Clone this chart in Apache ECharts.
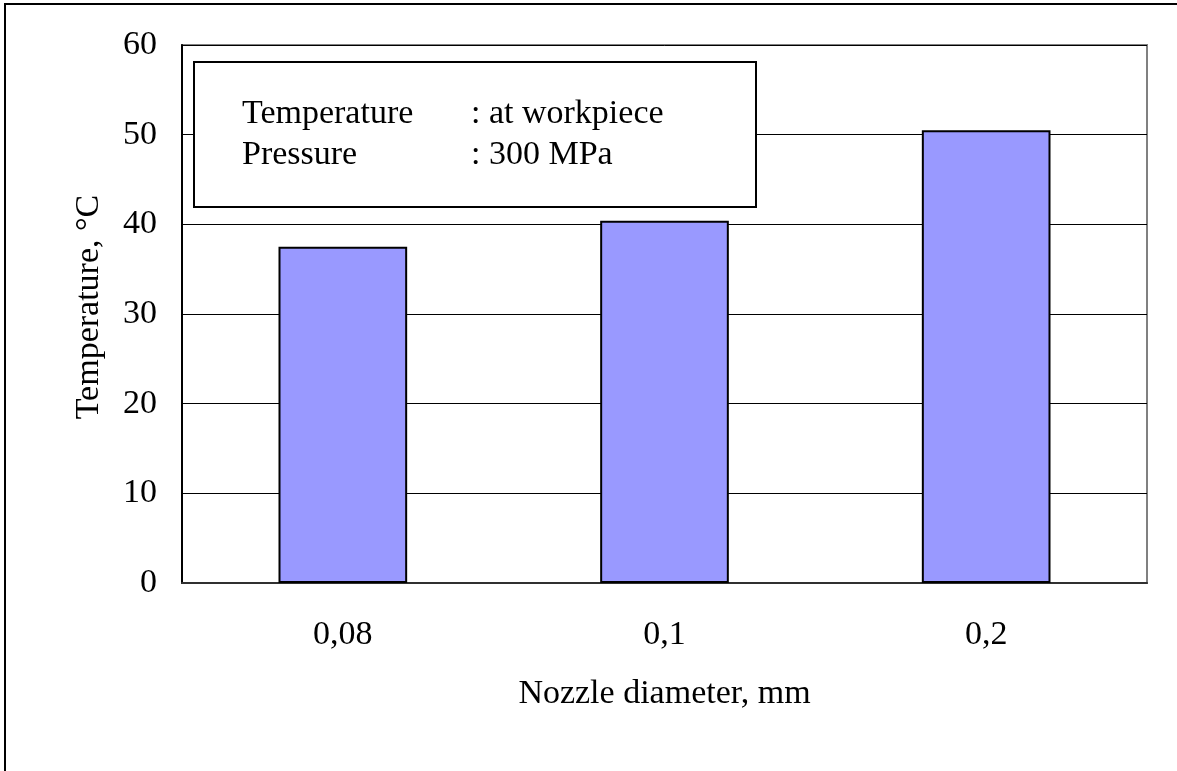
<!DOCTYPE html>
<html>
<head>
<meta charset="utf-8">
<script src="https://cdn.jsdelivr.net/npm/echarts@6/dist/echarts.min.js"></script>
<style>
html,body{margin:0;padding:0;background:#fff;}
#chart{width:1177px;height:771px;}
</style>
</head>
<body>
<div id="chart"></div>
<script>
const categories = ['0,08', '0,1', '0,2'];
const temperatureValues = [37.5, 40.4, 50.5];
const yTicks = [0, 10, 20, 30, 40, 50, 60];
const noteLabels = ['Temperature', 'Pressure'];
const noteValues = [': at workpiece', ': 300 MPa'];

const FONT = '"Liberation Serif", "Times New Roman", serif';
const FS = 34;
const chart = echarts.init(document.getElementById('chart'), null, {renderer: 'canvas'});

const graphics = [
  {type: 'rect', shape: {x: 5, y: 4, width: 1200, height: 800}, style: {fill: 'none', stroke: '#000', lineWidth: 2}, z: 0, silent: true},
  {type: 'rect', shape: {x: 194, y: 62, width: 562, height: 145}, style: {fill: '#fff', stroke: '#000', lineWidth: 2}, z: 10}
];
noteLabels.forEach((t, i) => {
  graphics.push({type: 'text', x: 242, y: 114 + i * 41, style: {text: t, font: FS + 'px ' + FONT, fill: '#000', textVerticalAlign: 'middle'}, z: 11});
  graphics.push({type: 'text', x: 471, y: 114 + i * 41, style: {text: noteValues[i], font: FS + 'px ' + FONT, fill: '#000', textVerticalAlign: 'middle'}, z: 11});
});

chart.setOption({
  animation: false,
  backgroundColor: '#fff',
  grid: {left: 182, right: 30, top: 45, bottom: 188, show: true, borderColor: '#808080', borderWidth: 2},
  xAxis: {
    type: 'category',
    data: categories,
    name: 'Nozzle diameter, mm',
    nameLocation: 'middle',
    nameGap: 94,
    nameTextStyle: {fontFamily: FONT, fontSize: FS, color: '#000'},
    axisLine: {show: true, lineStyle: {color: '#303030', width: 2}},
    axisTick: {show: false},
    axisLabel: {fontFamily: FONT, fontSize: FS, color: '#000', margin: 35}
  },
  yAxis: {
    type: 'value',
    min: 0, max: 60, interval: 10,
    name: 'Temperature, °C',
    nameLocation: 'middle',
    nameGap: 76,
    nameRotate: 90,
    nameTextStyle: {fontFamily: FONT, fontSize: FS, color: '#000', padding: [0, 0, 0, 14]},
    axisLine: {show: true, lineStyle: {color: '#000', width: 2}},
    axisTick: {show: false},
    axisLabel: {fontFamily: FONT, fontSize: FS, color: '#000', margin: 25,
      formatter: v => yTicks.includes(v) ? String(v) : ''},
    splitLine: {show: true, lineStyle: {color: '#000', width: 1}}
  },
  series: [{
    type: 'bar',
    data: temperatureValues,
    barWidth: '40%',
    itemStyle: {color: '#9999FF', borderColor: '#000', borderWidth: 2}
  }],
  graphic: graphics
});
</script>
</body>
</html>
